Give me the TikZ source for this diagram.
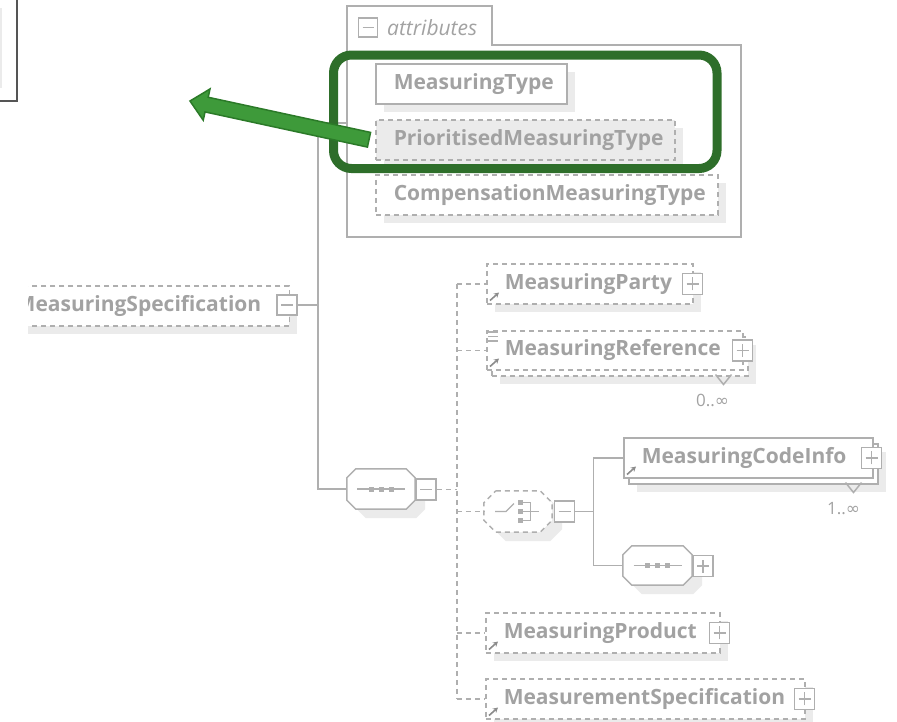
\documentclass[tikz,border=0pt]{standalone}
\usepackage{fontspec}
\setmainfont{Open Sans}
\newfontfamily\symfont{DejaVu Sans}
\usetikzlibrary{shadows,fit,calc,arrows.meta}

\definecolor{linegrey}{HTML}{AFAFAF}
\definecolor{textgrey}{HTML}{A2A2A2}
\definecolor{shadegrey}{HTML}{EBEBEB}
\definecolor{icongrey}{HTML}{8C8C8C}
\definecolor{framegrey}{HTML}{555555}
\definecolor{markgreen}{HTML}{2E6E2A}
\definecolor{arrowgreen}{HTML}{3E9A3A}
\definecolor{arrowedge}{HTML}{2B7A28}

% octagon round a node: name, chamfer, options
\newcommand\octagon[3]{%
  \path[#3] ([xshift=#2]#1.north west) -- ([xshift=-#2]#1.north east)
    -- ([yshift=-#2]#1.north east) -- ([yshift=#2]#1.south east)
    -- ([xshift=-#2]#1.south east) -- ([xshift=#2]#1.south west)
    -- ([yshift=#2]#1.south west) -- ([yshift=-#2]#1.north west) -- cycle;}

\tikzset{
  conn/.style={draw=linegrey, line width=1.5pt},
  dconn/.style={conn, dash pattern=on 5pt off 4pt},
  opt/.style={dash pattern=on 5pt off 4pt},
  elembase/.style={rectangle, draw=linegrey, fill=white, line width=1.5pt,
    minimum height=40pt, inner xsep=18pt, inner ysep=0pt, align=left,
    anchor=north west, text=textgrey, font=\fontsize{21}{24}\selectfont\bfseries},
  elem/.style={elembase,
    drop shadow={shadow xshift=8pt, shadow yshift=-8pt, fill=shadegrey, opacity=1}},
  multi/.style={elembase,
    drop shadow={shadow xshift=13pt, shadow yshift=-14pt, fill=shadegrey, opacity=1},
    copy shadow={shadow xshift=5pt, shadow yshift=-6pt, draw=linegrey, fill=white, opacity=1}},
  xbox/.style={rectangle, draw=linegrey, fill=white, line width=1.5pt,
    minimum size=20pt, inner sep=0pt},
  minusbox/.style={xbox, path picture={
    \draw[linegrey, line width=1.5pt] ([xshift=4pt]path picture bounding box.west)
      -- ([xshift=-4pt]path picture bounding box.east);}},
  plusbox/.style={xbox, path picture={
    \draw[linegrey, line width=1.5pt] ([xshift=4pt]path picture bounding box.west)
      -- ([xshift=-4pt]path picture bounding box.east);
    \draw[linegrey, line width=1.5pt] ([yshift=4pt]path picture bounding box.south)
      -- ([yshift=-4pt]path picture bounding box.north);}},
  seqbox/.style={rectangle, minimum width=68pt, minimum height=40pt, inner sep=0pt},
  offshade/.style={fill=shadegrey, transform canvas={xshift=10pt, yshift=-9pt}},
  mult/.style={text=textgrey, font=\fontsize{17}{20}\selectfont, inner sep=0pt},
}

\begin{document}
\begin{tikzpicture}[x=1pt, y=-1pt]
  \useasboundingbox (0,0) rectangle (897,721);

  % frame cut off at the top left
  \draw[framegrey, line width=2pt] (-5,-5) rectangle (17,101);
  \draw[shadegrey, line width=1.5pt] (1,8) -- (1,88);

  % attributes panel
  \draw[conn] (347,237) -- (347,6) -- (492,6) -- (492,45) -- (741,45) -- (741,237) -- cycle;
  \node (attrminus) [minusbox, minimum size=19pt] at (368,27.5) {};
  \node (attrlabel) [anchor=west, inner sep=0pt, text=textgrey,
    font=\fontsize{21}{24}\selectfont\itshape] at (387,28) {attributes};
  \coordinate (attrjoin) at (347,123);

  \node (mtype) [elem, text width=155pt] at (375,63) {MeasuringType};
  \node (prio) [elem, opt, fill=shadegrey, text width=263pt] at (375,119) {PrioritisedMeasuringType};
  \node (comp) [elem, opt, text width=306pt] at (375,174) {CompensationMeasuringType};

  % parent element, cut at the left
  \begin{scope}
    \clip (28,260) rectangle (340,350);
    \node (spec) [elem, opt, anchor=north east, align=right, inner xsep=28pt, text width=300pt]
      at (290,285) {MeasuringSpecification};
  \end{scope}
  \node (specminus) [minusbox] at (287,305) {};

  % sequence
  \node (seq1) [seqbox] at (381,489) {};
  \octagon{seq1}{9pt}{offshade}
  \octagon{seq1}{9pt}{conn, fill=white}
  \node (seq1minus) [minusbox, minimum height=21pt] at (426,489.5) {};
  \coordinate (trunk) at ([xshift=-29pt]seq1.west);
  \draw[conn] (attrjoin) -| (trunk) -- (seq1.west);
  \draw[conn] (specminus.east) -- (specminus.east -| trunk);

  % children of the sequence
  \node (party) [elem, opt, text width=170pt] at (486,263) {MeasuringParty};
  \node (ref) [multi, opt, minimum height=39pt, text width=220pt] at (486,330) {MeasuringReference};
  \node (choice) [seqbox, minimum height=41pt] at (518,511.5) {};
  \octagon{choice}{12pt}{offshade}
  \octagon{choice}{12pt}{dconn, fill=white}
  \node (choiceminus) [minusbox, minimum height=21pt] at (564.5,511.5) {};
  \node (product) [elem, opt, text width=198pt] at (485,612) {MeasuringProduct};
  \node (mspec) [elem, opt, text width=283pt] at (485,678) {MeasurementSpecification};

  \foreach \n in {party,ref,product,mspec}
    \node (\n plus) [plusbox, minimum height=21pt] at ([xshift=-1pt]\n.east) {};

  \coordinate (spine) at ([xshift=20pt]seq1minus.east);
  \draw[dconn] (seq1minus.east) -- (spine);
  \draw[dconn] (spine |- party.west) -- (spine |- mspec.west);
  \foreach \n in {party,ref,choice,product,mspec}
    \draw[dconn] (spine |- \n.west) -- (\n.west);

  % choice branches
  \node (code) [multi, text width=213pt] at (623,437) {MeasuringCodeInfo};
  \node (codeplus) [plusbox, minimum height=21pt] at ([xshift=-2pt]code.east) {};
  \node (seq2) [seqbox, minimum width=69pt, minimum height=39pt] at (657.5,565.5) {};
  \octagon{seq2}{9pt}{offshade}
  \octagon{seq2}{9pt}{conn, fill=white}
  \node (seq2plus) [plusbox, minimum height=21pt] at (703,566) {};
  \draw[conn] (choiceminus.east) -- ++(18,0) coordinate (branch);
  \draw[conn] (branch |- code.west) -- (branch |- seq2.west);
  \draw[conn] (branch |- code.west) -- (code.west);
  \draw[conn] (branch |- seq2.west) -- (seq2.west);

  % sequence and choice marks
  \foreach \s in {seq1,seq2} {
    \draw[linegrey, line width=1.2pt] ([xshift=-24pt]\s.center) -- ([xshift=24pt]\s.center);
    \foreach \d in {-10,0,10}
      \fill[linegrey] ([xshift=\d pt]\s.center) +(-2.5,-2.5) rectangle +(2.5,2.5);
  }
  \draw[linegrey, line width=1.2pt] ([xshift=-23pt]choice.center) -- ++(11,0) -- ++(8,-8);
  \foreach \d in {-9,0,9}
    \fill[linegrey] ([xshift=2pt]choice.center) +(-2.5,\d-2.5) rectangle +(2.5,\d+2.5);
  \draw[linegrey, line width=1.2pt] ([xshift=4.5pt]choice.center) +(0,-9) -- +(8,-9) -- +(8,9) -- +(0,9)
    +(0,0) -- +(16,0);

  % reference arrows and list marks
  \foreach \n in {party,ref,code,product,mspec}
    \draw[icongrey, line width=1.6pt, -{Stealth[length=5pt,width=5.5pt]}]
      ($(\n.south west)+(4,-4)$) -- ++(9,-8);
  \foreach \d in {2,6.5,11}
    \draw[linegrey, line width=1.2pt] ($(ref.north west)+(2,\d)$) -- ++(10,0);

  % occurrences
  \draw[conn] ($(ref.south east)+(-28,4)$) -- ++(8,10) -- ++(8,-10);
  \node (refocc) [mult] at ($(ref.south east)+(-31,30)$) {0..{\symfont ∞}};
  \draw[conn] ($(code.south east)+(-28,4)$) -- ++(8,10) -- ++(8,-10);
  \node (codeocc) [mult] at ($(code.south east)+(-30,30)$) {1..{\symfont ∞}};

  % highlight and arrow
  \node (hilite) [fit=(mtype)(prio), inner xsep=41.5pt, inner ysep=8pt,
    rounded corners=18pt, draw=markgreen, line width=9pt] {};
  \coordinate (tail) at ([xshift=-6pt]prio.west);
  \coordinate (tip) at (190,101);
  \coordinate (hb) at ($(tip)!17pt!(tail)$);
  \filldraw[fill=arrowgreen, draw=arrowedge, line width=1.5pt]
    (tip) -- ($(hb)!16pt!90:(tip)$) -- ($(hb)!7.5pt!90:(tip)$)
    -- ($(tail)!7.5pt!90:(tip)$) -- ($(tail)!7.5pt!-90:(tip)$)
    -- ($(hb)!7.5pt!-90:(tip)$) -- ($(hb)!16pt!-90:(tip)$) -- cycle;
\end{tikzpicture}
\end{document}
